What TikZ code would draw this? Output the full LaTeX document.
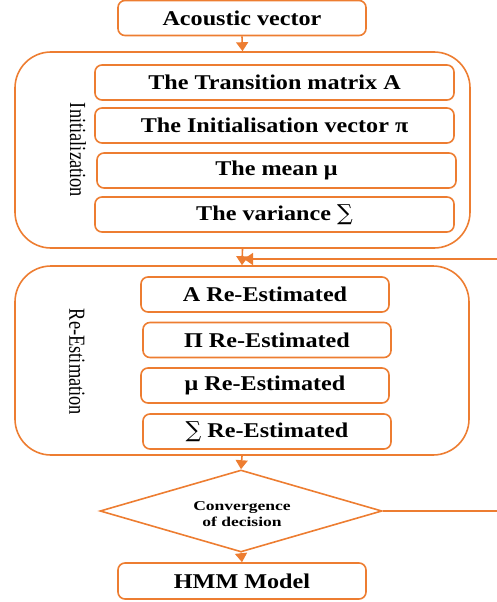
\documentclass[tikz,border=0pt]{standalone}
\usepackage{fontspec}
\setmainfont{Liberation Serif}
\newfontfamily\boxfont{Liberation Serif}[FakeStretch=1.15]
\newfontfamily\diafont{Liberation Serif}[FakeStretch=1.3]
\newfontfamily\sidefont{Liberation Serif}[FakeStretch=0.8]
\newfontfamily\sumfont{DejaVu Serif}
\newcommand{\bigsum}{{\sumfont\mdseries\fontsize{22}{24}\selectfont ∑}}
\usetikzlibrary{shapes.geometric,arrows.meta}
\definecolor{org}{HTML}{ED7D31}
\tikzset{
  box/.style={draw=org, line width=1.6pt, rounded corners=7pt, minimum height=35pt, inner sep=0pt,
              font=\boxfont\bfseries\fontsize{21}{24}\selectfont},
  group/.style={draw=org, line width=1.6pt, rounded corners=36pt, inner sep=0pt},
  sidelabel/.style={rotate=-90, font=\sidefont\fontsize{23}{24}\selectfont},
  arr/.style={draw=org, line width=1.6pt, -{Triangle[width=12pt,length=9pt]}},
  ln/.style={draw=org, line width=1.6pt},
}
\begin{document}
\begin{tikzpicture}[x=1pt,y=-1pt]
\useasboundingbox (0,0) rectangle (497,602);
\node[box, minimum width=248pt] (ac) at (242,18) {Acoustic vector};
\node[group, minimum width=455pt, minimum height=196pt] (init) at (242.5,150) {};
\node[box, minimum width=359pt] (i1) at (274.5,82.5) {The Transition matrix A};
\node[box, minimum width=359pt] (i2) at (274.5,125.5) {The Initialisation vector π};
\node[box, minimum width=359pt] (i3) at (276.5,170.5) {The mean μ};
\node[box, minimum width=359pt] (i4) at (274.5,214.5) {The variance \bigsum};
\node[sidelabel] (il) at (78,150) {Initialization};
\node[group, minimum width=454pt, minimum height=189pt] (re) at (242,360.5) {};
\node[box, minimum width=248pt] (r1) at (265,294.5) {A Re-Estimated};
\node[box, minimum width=248pt] (r2) at (267,340) {Π Re-Estimated};
\node[box, minimum width=248pt] (r3) at (265,385.5) {μ Re-Estimated};
\node[box, minimum width=248pt] (r4) at (267,431.5) {\bigsum\ Re-Estimated};
\node[sidelabel] (rl) at (77,362) {Re-Estimation};
\node[diamond, draw=org, line width=1.6pt, aspect=3.44, minimum width=282pt, minimum height=82pt, inner sep=0pt] (dia) at (241,511) {};
\node[align=center, font=\diafont\bfseries\fontsize{13.5}{16}\selectfont] (dt) at (242,514) {Convergence\\of decision};
\node[box, minimum width=248pt, minimum height=36pt] (hmm) at (242,581) {HMM Model};
\draw[arr] (ac.south) -- (init.north);
\draw[arr] (init.south) -- (re.north);
\draw[arr] (re.south) -- (dia.north);
\draw[arr] (dia.south) -- (hmm.north);
\coordinate (c1) at (502,511);
\coordinate (c2) at (502,259);
\coordinate (c3) at (244,259);
\draw[ln] (dia.east) -- (c1) -- (c2) -- (c3);
\draw[arr] (c2) -- (c3);
\end{tikzpicture}
\end{document}
